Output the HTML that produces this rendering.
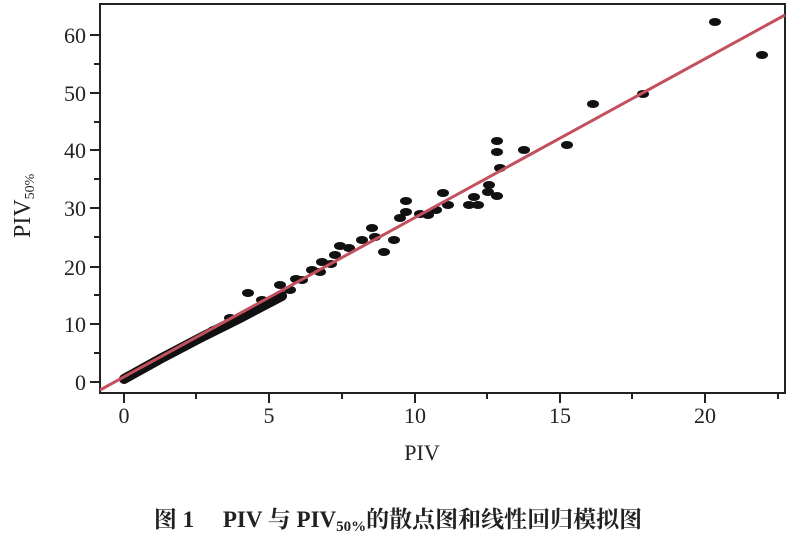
<!DOCTYPE html>
<html><head><meta charset="utf-8"><style>
body{margin:0;background:#fff;width:800px;height:548px;overflow:hidden}
svg{display:block}
text{font-family:"Liberation Serif","Noto Serif CJK SC",serif;fill:#222}
</style></head><body>
<svg width="800" height="548" viewBox="0 0 800 548">
<rect x="100" y="4" width="685" height="389" fill="none" stroke="#222" stroke-width="2"/>
<g stroke="#222" stroke-width="2">
<line x1="90" y1="35" x2="100" y2="35"/><line x1="90" y1="93" x2="100" y2="93"/>
<line x1="90" y1="150" x2="100" y2="150"/><line x1="90" y1="208" x2="100" y2="208"/>
<line x1="90" y1="267" x2="100" y2="267"/><line x1="90" y1="324" x2="100" y2="324"/>
<line x1="90" y1="382" x2="100" y2="382"/>
<line x1="94" y1="64" x2="100" y2="64"/><line x1="94" y1="122" x2="100" y2="122"/>
<line x1="94" y1="179" x2="100" y2="179"/><line x1="94" y1="237" x2="100" y2="237"/>
<line x1="94" y1="295" x2="100" y2="295"/><line x1="94" y1="353" x2="100" y2="353"/>
<line x1="124" y1="393" x2="124" y2="403"/><line x1="269" y1="393" x2="269" y2="403"/>
<line x1="415" y1="393" x2="415" y2="403"/><line x1="560" y1="393" x2="560" y2="403"/>
<line x1="705" y1="393" x2="705" y2="403"/>
<line x1="196" y1="393" x2="196" y2="399"/><line x1="342" y1="393" x2="342" y2="399"/>
<line x1="487" y1="393" x2="487" y2="399"/><line x1="632" y1="393" x2="632" y2="399"/>
<line x1="778" y1="393" x2="778" y2="399"/>
</g>
<g font-size="22" text-anchor="end">
<text x="86" y="43">60</text><text x="86" y="101">50</text><text x="86" y="158">40</text>
<text x="86" y="216">30</text><text x="86" y="275">20</text><text x="86" y="332">10</text>
<text x="86" y="390">0</text>
</g>
<g font-size="22" text-anchor="middle">
<text x="124" y="423">0</text><text x="269" y="423">5</text><text x="415" y="423">10</text>
<text x="560" y="423">15</text><text x="705" y="423">20</text>
<text x="422" y="460">PIV</text>
</g>
<text font-size="24" transform="translate(30,238) rotate(-90)">PIV<tspan font-size="14" dy="4">50%</tspan></text>
<path d="M124,379 L160,359 L200,338 L240,318 L282,296" stroke="#111" stroke-width="10" fill="none" stroke-linecap="round"/>
<g fill="#111">
<ellipse cx="715" cy="22" rx="6" ry="4"/><ellipse cx="762" cy="55" rx="6" ry="4"/>
<ellipse cx="643" cy="94" rx="6" ry="4"/><ellipse cx="593" cy="104" rx="6" ry="4"/>
<ellipse cx="567" cy="145" rx="6" ry="4"/><ellipse cx="524" cy="150" rx="6" ry="4"/>
<ellipse cx="497" cy="141" rx="6" ry="4"/><ellipse cx="497" cy="152" rx="6" ry="4"/>
<ellipse cx="500" cy="168" rx="6" ry="4"/><ellipse cx="488" cy="192" rx="6" ry="4"/>
<ellipse cx="497" cy="196" rx="6" ry="4"/><ellipse cx="489" cy="185" rx="6" ry="4"/>
<ellipse cx="478" cy="205" rx="6" ry="4"/><ellipse cx="474" cy="197" rx="6" ry="4"/>
<ellipse cx="469" cy="205" rx="6" ry="4"/><ellipse cx="448" cy="205" rx="6" ry="4"/>
<ellipse cx="443" cy="193" rx="6" ry="4"/><ellipse cx="436" cy="210" rx="6" ry="4"/>
<ellipse cx="428" cy="215" rx="6" ry="4"/><ellipse cx="420" cy="214" rx="6" ry="4"/>
<ellipse cx="406" cy="201" rx="6" ry="4"/><ellipse cx="406" cy="212" rx="6" ry="4"/>
<ellipse cx="400" cy="218" rx="6" ry="4"/><ellipse cx="394" cy="240" rx="6" ry="4"/>
<ellipse cx="384" cy="252" rx="6" ry="4"/><ellipse cx="375" cy="237" rx="6" ry="4"/>
<ellipse cx="372" cy="228" rx="6" ry="4"/><ellipse cx="362" cy="240" rx="6" ry="4"/>
<ellipse cx="349" cy="248" rx="6" ry="4"/><ellipse cx="340" cy="246" rx="6" ry="4"/>
<ellipse cx="335" cy="255" rx="6" ry="4"/><ellipse cx="331" cy="264" rx="6" ry="4"/>
<ellipse cx="322" cy="262" rx="6" ry="4"/><ellipse cx="320" cy="272" rx="6" ry="4"/>
<ellipse cx="312" cy="270" rx="6" ry="4"/><ellipse cx="302" cy="280" rx="6" ry="4"/>
<ellipse cx="296" cy="279" rx="6" ry="4"/><ellipse cx="290" cy="290" rx="6" ry="4"/>
<ellipse cx="280" cy="285" rx="6" ry="4"/><ellipse cx="248" cy="293" rx="6" ry="4"/>
<ellipse cx="262" cy="300" rx="6" ry="4"/><ellipse cx="230" cy="318" rx="6" ry="4"/>
<ellipse cx="256" cy="310" rx="6" ry="4"/><ellipse cx="214" cy="330" rx="6" ry="4"/>
</g>
<line x1="100" y1="390" x2="785" y2="15" stroke="#c2505d" stroke-width="3"/>
<text x="398" y="527" font-size="23" font-weight="bold" text-anchor="middle">图 1　 PIV 与 PIV<tspan font-size="15" dy="4">50%</tspan><tspan dy="-4">的散点图和线性回归模拟图</tspan></text>
</svg>
</body></html>
